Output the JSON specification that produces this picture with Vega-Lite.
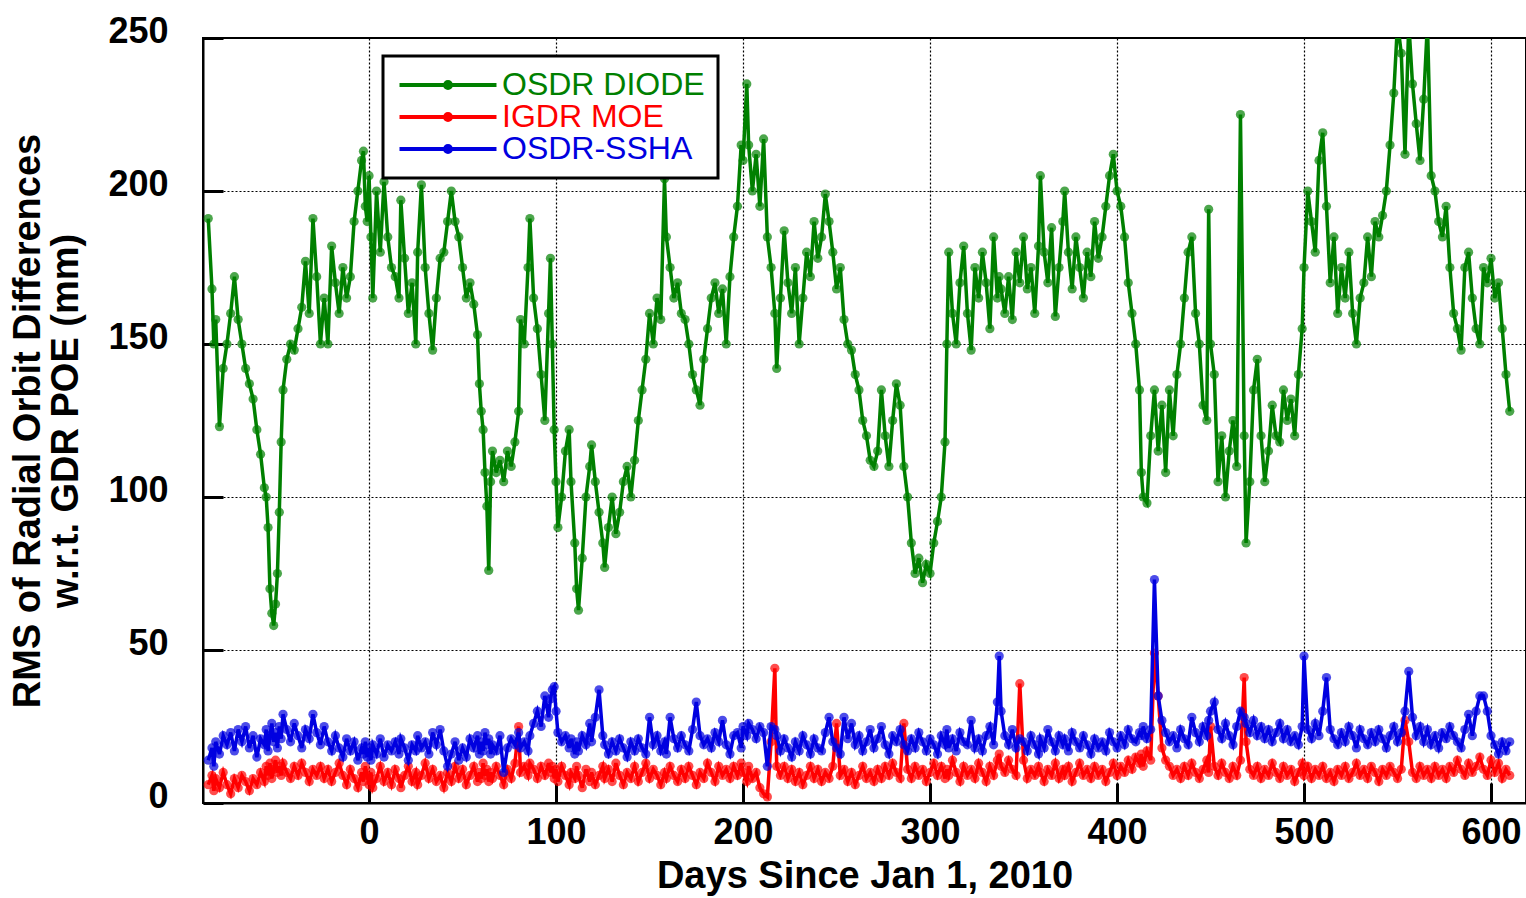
{
"$schema": "https://vega.github.io/schema/vega-lite/v6.json",
"autosize": {"type": "none"},
"padding": {"left": 203, "top": 38, "right": 0, "bottom": 95},
"width": 1323,
"height": 765,
"background": "white",
"data": {"values": [
{"d":-86,"g":191,"r":6,"b":14},{"d":-84,"g":168,"r":9,"b":18},{"d":-83,"g":150,"r":4,"b":12},{"d":-82,"g":158,"r":8,"b":20},{"d":-80,"g":123,"r":5,"b":16},{"d":-78,"g":142,"r":10,"b":22},{"d":-76,"g":150,"r":6,"b":19},{"d":-74,"g":160,"r":3,"b":23},{"d":-72,"g":172,"r":8,"b":17},{"d":-70,"g":158,"r":5,"b":24},{"d":-68,"g":150,"r":9,"b":20},{"d":-66,"g":142,"r":7,"b":25},{"d":-64,"g":137,"r":4,"b":18},{"d":-62,"g":132,"r":8,"b":22},{"d":-60,"g":122,"r":6,"b":15},{"d":-58,"g":114,"r":10,"b":21},{"d":-56,"g":103,"r":7,"b":19},{"d":-55,"g":100,"r":12,"b":24},{"d":-54,"g":90,"r":9,"b":17},{"d":-53,"g":70,"r":13,"b":22},{"d":-52,"g":62,"r":8,"b":26},{"d":-51,"g":58,"r":11,"b":20},{"d":-50,"g":65,"r":14,"b":23},{"d":-49,"g":75,"r":10,"b":18},{"d":-48,"g":95,"r":12,"b":25},{"d":-47,"g":118,"r":9,"b":21},{"d":-46,"g":135,"r":13,"b":29},{"d":-44,"g":145,"r":10,"b":24},{"d":-42,"g":150,"r":8,"b":20},{"d":-40,"g":148,"r":12,"b":26},{"d":-38,"g":155,"r":9,"b":22},{"d":-36,"g":162,"r":13,"b":18},{"d":-34,"g":177,"r":10,"b":24},{"d":-32,"g":160,"r":7,"b":21},{"d":-30,"g":191,"r":11,"b":29},{"d":-28,"g":172,"r":9,"b":23},{"d":-26,"g":150,"r":12,"b":19},{"d":-24,"g":165,"r":8,"b":25},{"d":-22,"g":150,"r":11,"b":20},{"d":-20,"g":182,"r":7,"b":17},{"d":-18,"g":170,"r":10,"b":22},{"d":-16,"g":160,"r":13,"b":18},{"d":-14,"g":175,"r":9,"b":15},{"d":-12,"g":165,"r":6,"b":21},{"d":-10,"g":172,"r":11,"b":17},{"d":-8,"g":190,"r":8,"b":20},{"d":-6,"g":200,"r":5,"b":14},{"d":-4,"g":210,"r":10,"b":18},{"d":-3,"g":213,"r":7,"b":16},{"d":-2,"g":195,"r":12,"b":20},{"d":-1,"g":190,"r":9,"b":15},
{"d":0,"g":205,"r":6,"b":18},{"d":1,"g":185,"r":10,"b":14},{"d":2,"g":165,"r":5,"b":19},{"d":4,"g":200,"r":8,"b":16},{"d":6,"g":180,"r":12,"b":21},{"d":8,"g":203,"r":7,"b":15},{"d":10,"g":185,"r":10,"b":19},{"d":12,"g":175,"r":6,"b":17},{"d":14,"g":172,"r":11,"b":20},{"d":16,"g":165,"r":8,"b":16},{"d":17,"g":197,"r":5,"b":21},{"d":19,"g":178,"r":9,"b":18},{"d":21,"g":160,"r":12,"b":14},{"d":23,"g":170,"r":7,"b":19},{"d":25,"g":150,"r":10,"b":17},{"d":26,"g":180,"r":6,"b":22},{"d":28,"g":202,"r":9,"b":18},{"d":30,"g":175,"r":13,"b":20},{"d":32,"g":160,"r":8,"b":16},{"d":34,"g":148,"r":11,"b":23},{"d":36,"g":165,"r":7,"b":19},{"d":38,"g":178,"r":9,"b":24},{"d":40,"g":180,"r":5,"b":17},{"d":42,"g":190,"r":10,"b":12},{"d":44,"g":200,"r":7,"b":16},{"d":46,"g":190,"r":12,"b":20},{"d":48,"g":185,"r":8,"b":14},{"d":50,"g":175,"r":11,"b":18},{"d":52,"g":165,"r":6,"b":15},{"d":54,"g":170,"r":9,"b":21},{"d":56,"g":163,"r":12,"b":18},{"d":58,"g":153,"r":7,"b":22},{"d":59,"g":137,"r":10,"b":16},{"d":60,"g":128,"r":8,"b":20},{"d":61,"g":122,"r":13,"b":17},{"d":62,"g":108,"r":9,"b":23},{"d":63,"g":97,"r":11,"b":19},{"d":64,"g":76,"r":7,"b":21},{"d":65,"g":105,"r":10,"b":16},{"d":66,"g":115,"r":8,"b":19},{"d":68,"g":108,"r":12,"b":17},{"d":70,"g":112,"r":9,"b":22},{"d":72,"g":105,"r":6,"b":10},{"d":74,"g":115,"r":11,"b":18},{"d":76,"g":110,"r":8,"b":21},{"d":78,"g":118,"r":13,"b":19},{"d":80,"g":128,"r":25,"b":23},{"d":81,"g":158,"r":10,"b":18},{"d":83,"g":150,"r":12,"b":20},{"d":85,"g":175,"r":9,"b":17},{"d":86,"g":191,"r":13,"b":22},{"d":88,"g":165,"r":11,"b":26},{"d":90,"g":155,"r":8,"b":30},{"d":92,"g":140,"r":12,"b":25},{"d":94,"g":125,"r":9,"b":35},{"d":96,"g":160,"r":13,"b":28},{"d":97,"g":178,"r":10,"b":34},{"d":98,"g":150,"r":12,"b":37},{"d":99,"g":122,"r":8,"b":38},
{"d":100,"g":105,"r":11,"b":30},{"d":101,"g":90,"r":7,"b":23},{"d":103,"g":100,"r":12,"b":20},{"d":105,"g":115,"r":9,"b":22},{"d":107,"g":122,"r":6,"b":18},{"d":108,"g":105,"r":10,"b":21},{"d":110,"g":85,"r":8,"b":16},{"d":111,"g":70,"r":12,"b":20},{"d":112,"g":63,"r":9,"b":17},{"d":114,"g":80,"r":5,"b":22},{"d":116,"g":100,"r":11,"b":19},{"d":118,"g":110,"r":7,"b":26},{"d":119,"g":117,"r":10,"b":20},{"d":121,"g":105,"r":6,"b":28},{"d":123,"g":95,"r":9,"b":37},{"d":125,"g":85,"r":12,"b":22},{"d":126,"g":77,"r":8,"b":19},{"d":128,"g":90,"r":11,"b":16},{"d":130,"g":100,"r":7,"b":20},{"d":132,"g":88,"r":13,"b":17},{"d":134,"g":95,"r":9,"b":21},{"d":136,"g":105,"r":6,"b":18},{"d":138,"g":110,"r":10,"b":15},{"d":140,"g":100,"r":8,"b":20},{"d":142,"g":112,"r":12,"b":17},{"d":144,"g":125,"r":7,"b":21},{"d":146,"g":135,"r":10,"b":18},{"d":148,"g":145,"r":13,"b":16},{"d":150,"g":160,"r":8,"b":28},{"d":152,"g":150,"r":11,"b":19},{"d":154,"g":165,"r":9,"b":22},{"d":156,"g":158,"r":6,"b":17},{"d":158,"g":204,"r":10,"b":20},{"d":159,"g":185,"r":8,"b":16},{"d":161,"g":175,"r":12,"b":28},{"d":163,"g":165,"r":9,"b":21},{"d":165,"g":170,"r":7,"b":18},{"d":167,"g":160,"r":11,"b":22},{"d":169,"g":158,"r":8,"b":19},{"d":171,"g":150,"r":12,"b":17},{"d":173,"g":140,"r":9,"b":24},{"d":175,"g":135,"r":6,"b":33},{"d":177,"g":130,"r":10,"b":22},{"d":179,"g":145,"r":8,"b":19},{"d":181,"g":155,"r":13,"b":21},{"d":183,"g":165,"r":10,"b":18},{"d":185,"g":170,"r":7,"b":23},{"d":187,"g":160,"r":12,"b":20},{"d":189,"g":168,"r":9,"b":27},{"d":191,"g":150,"r":11,"b":19},{"d":193,"g":172,"r":8,"b":16},{"d":195,"g":185,"r":12,"b":22},{"d":197,"g":195,"r":9,"b":23},{"d":199,"g":215,"r":13,"b":18},
{"d":200,"g":210,"r":10,"b":25},{"d":202,"g":235,"r":7,"b":22},{"d":203,"g":215,"r":12,"b":26},{"d":205,"g":200,"r":8,"b":24},{"d":207,"g":212,"r":10,"b":21},{"d":209,"g":195,"r":5,"b":25},{"d":211,"g":217,"r":3,"b":23},{"d":213,"g":185,"r":2,"b":12},{"d":215,"g":175,"r":20,"b":25},{"d":217,"g":160,"r":44,"b":24},{"d":218,"g":142,"r":12,"b":22},{"d":220,"g":165,"r":9,"b":17},{"d":222,"g":187,"r":12,"b":21},{"d":224,"g":170,"r":8,"b":18},{"d":226,"g":160,"r":11,"b":15},{"d":228,"g":175,"r":7,"b":20},{"d":230,"g":150,"r":10,"b":17},{"d":232,"g":165,"r":6,"b":22},{"d":234,"g":180,"r":9,"b":19},{"d":236,"g":172,"r":12,"b":16},{"d":238,"g":190,"r":8,"b":21},{"d":240,"g":178,"r":11,"b":18},{"d":242,"g":185,"r":7,"b":17},{"d":244,"g":199,"r":10,"b":23},{"d":246,"g":190,"r":8,"b":28},{"d":248,"g":180,"r":12,"b":20},{"d":250,"g":168,"r":26,"b":18},{"d":252,"g":175,"r":9,"b":16},{"d":254,"g":158,"r":11,"b":28},{"d":256,"g":150,"r":7,"b":21},{"d":258,"g":148,"r":10,"b":26},{"d":260,"g":140,"r":6,"b":19},{"d":262,"g":135,"r":9,"b":22},{"d":264,"g":125,"r":12,"b":17},{"d":266,"g":120,"r":8,"b":20},{"d":268,"g":112,"r":10,"b":24},{"d":270,"g":110,"r":7,"b":18},{"d":272,"g":115,"r":11,"b":21},{"d":274,"g":135,"r":8,"b":25},{"d":276,"g":120,"r":12,"b":19},{"d":278,"g":110,"r":9,"b":16},{"d":280,"g":125,"r":13,"b":22},{"d":282,"g":137,"r":10,"b":20},{"d":284,"g":130,"r":8,"b":24},{"d":286,"g":110,"r":26,"b":19},{"d":288,"g":100,"r":11,"b":17},{"d":290,"g":85,"r":8,"b":21},{"d":292,"g":75,"r":12,"b":18},{"d":294,"g":80,"r":9,"b":23},{"d":296,"g":72,"r":11,"b":20},{"d":298,"g":78,"r":7,"b":17},
{"d":300,"g":75,"r":10,"b":21},{"d":302,"g":85,"r":13,"b":19},{"d":304,"g":92,"r":9,"b":16},{"d":306,"g":100,"r":12,"b":22},{"d":308,"g":118,"r":8,"b":19},{"d":309,"g":150,"r":11,"b":24},{"d":310,"g":180,"r":9,"b":18},{"d":312,"g":160,"r":14,"b":21},{"d":314,"g":150,"r":10,"b":17},{"d":316,"g":170,"r":7,"b":23},{"d":318,"g":182,"r":12,"b":20},{"d":320,"g":160,"r":9,"b":19},{"d":322,"g":148,"r":11,"b":27},{"d":324,"g":175,"r":8,"b":18},{"d":326,"g":165,"r":13,"b":21},{"d":328,"g":180,"r":10,"b":17},{"d":330,"g":170,"r":7,"b":22},{"d":332,"g":155,"r":12,"b":25},{"d":334,"g":185,"r":9,"b":19},{"d":336,"g":165,"r":14,"b":33},{"d":337,"g":172,"r":16,"b":48},{"d":338,"g":168,"r":12,"b":30},{"d":340,"g":160,"r":10,"b":22},{"d":342,"g":172,"r":14,"b":19},{"d":344,"g":158,"r":11,"b":24},{"d":346,"g":180,"r":9,"b":18},{"d":348,"g":170,"r":39,"b":21},{"d":350,"g":185,"r":14,"b":20},{"d":352,"g":168,"r":8,"b":17},{"d":354,"g":175,"r":11,"b":22},{"d":356,"g":160,"r":9,"b":19},{"d":358,"g":182,"r":12,"b":16},{"d":359,"g":205,"r":10,"b":21},{"d":361,"g":180,"r":7,"b":18},{"d":363,"g":170,"r":11,"b":24},{"d":365,"g":188,"r":9,"b":20},{"d":367,"g":159,"r":13,"b":17},{"d":369,"g":175,"r":8,"b":22},{"d":371,"g":190,"r":11,"b":19},{"d":372,"g":200,"r":9,"b":21},{"d":374,"g":180,"r":12,"b":17},{"d":376,"g":168,"r":7,"b":23},{"d":378,"g":185,"r":10,"b":20},{"d":380,"g":175,"r":13,"b":18},{"d":382,"g":165,"r":9,"b":22},{"d":384,"g":180,"r":11,"b":19},{"d":386,"g":172,"r":8,"b":16},{"d":388,"g":190,"r":12,"b":21},{"d":390,"g":178,"r":9,"b":18},{"d":392,"g":185,"r":11,"b":20},{"d":394,"g":195,"r":7,"b":17},{"d":396,"g":205,"r":10,"b":23},{"d":398,"g":212,"r":13,"b":20},
{"d":400,"g":200,"r":9,"b":18},{"d":402,"g":195,"r":12,"b":22},{"d":404,"g":185,"r":10,"b":19},{"d":406,"g":170,"r":14,"b":24},{"d":408,"g":160,"r":11,"b":21},{"d":410,"g":150,"r":15,"b":20},{"d":412,"g":135,"r":13,"b":23},{"d":413,"g":108,"r":16,"b":22},{"d":414,"g":100,"r":12,"b":25},{"d":416,"g":98,"r":17,"b":21},{"d":418,"g":120,"r":14,"b":24},{"d":420,"g":135,"r":49,"b":73},{"d":422,"g":115,"r":35,"b":35},{"d":424,"g":130,"r":18,"b":27},{"d":426,"g":108,"r":14,"b":23},{"d":428,"g":135,"r":12,"b":20},{"d":430,"g":120,"r":9,"b":22},{"d":432,"g":140,"r":11,"b":18},{"d":434,"g":150,"r":8,"b":24},{"d":436,"g":165,"r":12,"b":21},{"d":438,"g":180,"r":9,"b":19},{"d":440,"g":185,"r":13,"b":28},{"d":442,"g":160,"r":10,"b":23},{"d":444,"g":150,"r":8,"b":20},{"d":446,"g":130,"r":11,"b":25},{"d":448,"g":125,"r":14,"b":22},{"d":449,"g":194,"r":10,"b":27},{"d":450,"g":150,"r":25,"b":30},{"d":452,"g":140,"r":12,"b":33},{"d":454,"g":105,"r":9,"b":24},{"d":456,"g":120,"r":13,"b":21},{"d":458,"g":100,"r":10,"b":26},{"d":460,"g":115,"r":8,"b":22},{"d":462,"g":125,"r":12,"b":19},{"d":464,"g":110,"r":9,"b":25},{"d":466,"g":225,"r":14,"b":30},{"d":468,"g":120,"r":41,"b":28},{"d":469,"g":85,"r":20,"b":26},{"d":471,"g":105,"r":11,"b":23},{"d":473,"g":135,"r":9,"b":27},{"d":475,"g":145,"r":12,"b":22},{"d":477,"g":120,"r":8,"b":25},{"d":479,"g":105,"r":11,"b":21},{"d":481,"g":115,"r":9,"b":24},{"d":483,"g":130,"r":13,"b":20},{"d":485,"g":120,"r":10,"b":23},{"d":487,"g":118,"r":8,"b":26},{"d":489,"g":135,"r":12,"b":21},{"d":491,"g":125,"r":9,"b":24},{"d":493,"g":132,"r":11,"b":20},{"d":495,"g":120,"r":7,"b":22},{"d":497,"g":140,"r":10,"b":19},{"d":499,"g":155,"r":13,"b":25},
{"d":500,"g":175,"r":9,"b":48},{"d":502,"g":200,"r":12,"b":24},{"d":504,"g":190,"r":8,"b":21},{"d":506,"g":180,"r":11,"b":26},{"d":508,"g":210,"r":9,"b":22},{"d":510,"g":219,"r":12,"b":30},{"d":512,"g":195,"r":8,"b":41},{"d":514,"g":170,"r":10,"b":24},{"d":516,"g":185,"r":7,"b":21},{"d":518,"g":160,"r":11,"b":19},{"d":520,"g":175,"r":9,"b":23},{"d":522,"g":165,"r":12,"b":20},{"d":524,"g":180,"r":8,"b":25},{"d":526,"g":160,"r":10,"b":22},{"d":528,"g":150,"r":13,"b":18},{"d":530,"g":165,"r":9,"b":24},{"d":532,"g":170,"r":11,"b":21},{"d":534,"g":185,"r":8,"b":19},{"d":536,"g":172,"r":12,"b":23},{"d":538,"g":190,"r":10,"b":20},{"d":540,"g":185,"r":7,"b":24},{"d":542,"g":192,"r":11,"b":21},{"d":544,"g":200,"r":9,"b":18},{"d":546,"g":215,"r":12,"b":22},{"d":548,"g":232,"r":10,"b":25},{"d":550,"g":255,"r":8,"b":20},{"d":552,"g":245,"r":11,"b":23},{"d":554,"g":212,"r":27,"b":30},{"d":556,"g":255,"r":20,"b":43},{"d":558,"g":235,"r":10,"b":28},{"d":560,"g":222,"r":8,"b":22},{"d":562,"g":210,"r":12,"b":25},{"d":564,"g":230,"r":9,"b":20},{"d":566,"g":255,"r":11,"b":24},{"d":568,"g":205,"r":8,"b":19},{"d":570,"g":200,"r":12,"b":22},{"d":572,"g":190,"r":9,"b":18},{"d":574,"g":185,"r":11,"b":23},{"d":576,"g":195,"r":8,"b":21},{"d":578,"g":175,"r":12,"b":25},{"d":580,"g":160,"r":10,"b":22},{"d":582,"g":155,"r":14,"b":20},{"d":584,"g":148,"r":11,"b":18},{"d":586,"g":175,"r":9,"b":24},{"d":588,"g":180,"r":13,"b":29},{"d":590,"g":165,"r":10,"b":22},{"d":592,"g":155,"r":12,"b":30},{"d":594,"g":150,"r":15,"b":35},{"d":596,"g":175,"r":11,"b":35},{"d":598,"g":170,"r":9,"b":30},{"d":600,"g":178,"r":14,"b":22},{"d":602,"g":165,"r":10,"b":19},{"d":604,"g":170,"r":13,"b":16},{"d":606,"g":155,"r":8,"b":20},{"d":608,"g":140,"r":11,"b":17},{"d":610,"g":128,"r":9,"b":20}
]},
"transform": [{"fold": ["g", "r", "b"], "as": ["series", "value"]}],
"encoding": {
  "color": {
    "field": "series", "type": "nominal",
    "scale": {"domain": ["g", "r", "b"], "range": ["#008000", "#ff0000", "#0000e0"]},
    "legend": {
      "title": null, "orient": "none", "legendX": 180, "legendY": 18,
      "fillColor": "white", "strokeColor": "black", "padding": 13,
      "symbolType": "M-8,0L8,0M-0.5,0A0.5,0.5,0,1,1,0.5,0A0.5,0.5,0,1,1,-0.5,0Z",
      "symbolSize": 147, "symbolStrokeWidth": 4, "symbolOffset": 36,
      "labelFont": "Liberation Sans", "labelFontSize": 32, "labelOffset": 38, "labelLimit": 400, "rowPadding": 0,
      "labelExpr": "datum.label == 'g' ? 'OSDR DIODE' : datum.label == 'r' ? 'IGDR MOE' : 'OSDR-SSHA'",
      "encode": {
        "legend": {"update": {"strokeWidth": {"value": 3}}},
        "labels": {"update": {"fill": {"scale": "color", "field": "value"}}},
        "symbols": {"update": {"fill": {"scale": "color", "field": "value"}, "stroke": {"scale": "color", "field": "value"}, "opacity": {"value": 1}}}
      }
    }
  }
},
"layer": [
  {
    "transform": [{"filter": "datum.series == 'g'"}],
    "mark": {"type": "line", "strokeWidth": 3.5, "clip": true},
    "encoding": {
      "x": {"field": "d", "type": "quantitative", "scale": {"domain": [-88.8, 618.7], "nice": false, "zero": false},
        "axis": {"orient": "bottom", "values": [0, 100, 200, 300, 400, 500, 600], "title": "Days Since Jan 1, 2010", "ticks": true, "tickSize": -20, "tickWidth": 3, "labelPadding": 32, "titlePadding": 7, "grid": true}},
      "y": {"field": "value", "type": "quantitative", "scale": {"domain": [0, 250], "nice": false},
        "axis": {"orient": "left", "values": [0, 50, 100, 150, 200, 250], "title": ["RMS of Radial Orbit Differences", "w.r.t. GDR POE (mm)"], "titleLineHeight": 38, "ticks": true, "tickSize": -20, "tickWidth": 3, "labelPadding": 55, "labelOffset": -7, "titlePadding": 22, "grid": true}}
    }
  },
  {
    "transform": [{"filter": "datum.series == 'g'"}],
    "mark": {"type": "point", "filled": true, "size": 85, "clip": true},
    "encoding": {
      "x": {"field": "d", "type": "quantitative"},
      "y": {"field": "value", "type": "quantitative"}
    }
  },
  {
    "transform": [{"filter": "datum.series == 'r'"}],
    "mark": {"type": "line", "strokeWidth": 3.5, "clip": true},
    "encoding": {
      "x": {"field": "d", "type": "quantitative"},
      "y": {"field": "value", "type": "quantitative"}
    }
  },
  {
    "transform": [{"filter": "datum.series == 'r'"}],
    "mark": {"type": "point", "filled": true, "size": 85, "clip": true},
    "encoding": {
      "x": {"field": "d", "type": "quantitative"},
      "y": {"field": "value", "type": "quantitative"}
    }
  },
  {
    "transform": [{"filter": "datum.series == 'b'"}],
    "mark": {"type": "line", "strokeWidth": 3.5, "clip": true},
    "encoding": {
      "x": {"field": "d", "type": "quantitative"},
      "y": {"field": "value", "type": "quantitative"}
    }
  },
  {
    "transform": [{"filter": "datum.series == 'b'"}],
    "mark": {"type": "point", "filled": true, "size": 85, "clip": true},
    "encoding": {
      "x": {"field": "d", "type": "quantitative"},
      "y": {"field": "value", "type": "quantitative"}
    }
  }
],
"config": {
  "font": "Liberation Sans",
  "view": {"stroke": "black", "strokeWidth": 2},
  "axis": {
    "labelFont": "Liberation Sans", "labelFontWeight": "bold", "labelFontSize": 36, "labelColor": "black",
    "titleFont": "Liberation Sans", "titleFontWeight": "bold", "titleFontSize": 38, "titleColor": "black",
    "domainColor": "black", "domainWidth": 2, "tickColor": "black", "tickWidth": 3,
    "gridColor": "black", "gridDash": [2, 2], "gridWidth": 1.2, "gridOpacity": 1
  }
}
}
